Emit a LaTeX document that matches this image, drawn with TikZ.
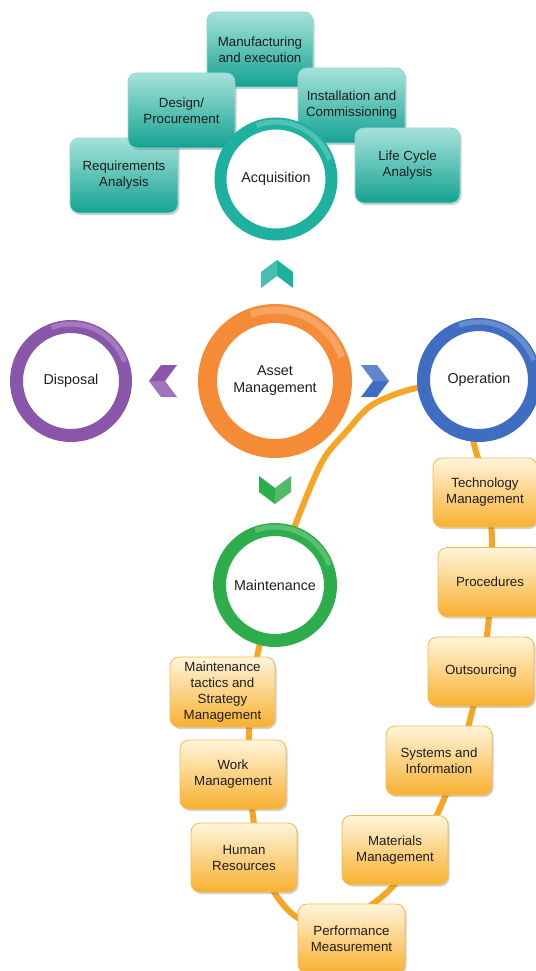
\documentclass[tikz,border=0pt]{standalone}
\usepackage{fontspec}
\setmainfont{Liberation Sans}
\usetikzlibrary{shadows}

\definecolor{txt}{HTML}{1E1E1E}
\definecolor{tealring}{HTML}{1FB19F}
\definecolor{tealtop}{HTML}{A6E2DA}
\definecolor{tealbot}{HTML}{14A292}
\definecolor{tealedge}{HTML}{8FD8CE}
\definecolor{orangering}{HTML}{F58B36}
\definecolor{purplering}{HTML}{8A56AA}
\definecolor{bluering}{HTML}{3E6DC2}
\definecolor{greenring}{HTML}{2DAD4B}
\definecolor{looporange}{HTML}{F6A625}
\definecolor{ambertop}{HTML}{FFF5DC}
\definecolor{amberbot}{HTML}{F8B02F}
\definecolor{amberedge}{HTML}{F5BA4E}

\begin{document}
\begin{tikzpicture}[x=1pt,y=1pt,
  ring/.style={circle, inner sep=0pt, fill=white, text=txt, align=center,
    font=\fontsize{14.3}{17}\selectfont},
  gloss/.style={white, opacity=0.22, line width=5pt},
  boxbase/.style={rounded corners=9pt, text=txt, align=center, inner sep=2pt,
    font=\fontsize{13.3}{16}\selectfont, line width=0.8pt,
    drop shadow={shadow xshift=1.5pt, shadow yshift=-2pt, opacity=0.3, fill=black!60}},
  tealbox/.style={boxbase, minimum width=106pt, minimum height=75pt,
    top color=tealtop, bottom color=tealbot, draw=tealedge},
  amberbox/.style={boxbase, minimum width=106pt, minimum height=69pt,
    top color=ambertop, bottom color=amberbot, draw=amberedge},
  chev/.pic={\fill[pic actions] (14,0) -- (2,16) -- (-14,16) -- (-2,0)
    -- (-14,-16) -- (2,-16) -- cycle;
    \fill[white, opacity=0.18] (14,0) -- (2,16) -- (-14,16) -- (-2,0) -- cycle;}
]
\useasboundingbox (0,0) rectangle (535,-971);

% the orange track linking Operation and Maintenance through the activity boxes
\draw[looporange, line width=6pt, line cap=round]
  plot[smooth, tension=0.55] coordinates {
  (470,-425) (475,-448) (483,-475) (489,-505) (492,-540) (491,-580)
  (488,-627) (481,-670) (471,-716) (457,-765) (441,-806) (420,-848)
  (395,-884) (370,-906) (335,-928) (298,-918) (274,-892) (259,-855)
  (253,-816) (249,-774) (249,-733) (252,-692) (258,-652) (268,-615)
  (282,-565) (296,-523) (322,-462) (346,-432) (372,-405) (412,-389)
  (445,-386)};

% acquisition stages
\node[tealbox] (manu) at (260,-49.5) {Manufacturing\\and execution};
\node[tealbox, minimum width=108pt] (req) at (124,-175.5) {Requirements\\Analysis};
\node[tealbox, minimum width=107pt] (design) at (181.5,-110.5) {Design/\\Procurement};
\node[tealbox, minimum width=107pt] (inst) at (351.5,-105.5) {Installation and\\Commissioning};
\node[tealbox, minimum width=105pt] (lca) at (407.5,-165.5) {Life Cycle\\Analysis};

% life-cycle circles
\node[ring, draw=tealring, line width=12pt, minimum size=111pt] (acq) at (276,-179) {Acquisition};
\draw[gloss] (acq.center) ++(20:57) arc[start angle=20, end angle=110, radius=57];

\node[ring, draw=orangering, line width=19pt, minimum size=135pt] (am) at (275,-381) {Asset\\Management};
\draw[gloss, line width=7pt] (am.center) ++(20:71) arc[start angle=20, end angle=110, radius=71];

\node[ring, draw=purplering, line width=13pt, minimum size=109pt] (disp) at (71,-381) {Disposal};
\draw[gloss] (disp.center) ++(20:57) arc[start angle=20, end angle=110, radius=57];

\node[ring, draw=bluering, line width=13pt, minimum size=111pt] (op) at (479,-380) {Operation};
\draw[gloss] (op.center) ++(20:58) arc[start angle=20, end angle=110, radius=58];

\node[ring, draw=greenring, line width=13pt, minimum size=111pt] (maint) at (275,-585) {Maintenance};
\draw[gloss] (maint.center) ++(20:58) arc[start angle=20, end angle=110, radius=58];

% direction chevrons around the centre
\pic[fill=tealring, rotate=90] (up) at (277,-274) {chev};
\pic[fill=purplering, rotate=180] (left) at (163,-381) {chev};
\pic[fill=bluering] (right) at (375,-381) {chev};
\pic[fill=greenring, rotate=270] (down) at (275,-490) {chev};

% operation activities
\node[amberbox, minimum width=104pt] (tech) at (485,-492.5) {Technology\\Management};
\node[amberbox, minimum width=104pt] (proc) at (490,-582) {Procedures};
\node[amberbox] (outs) at (481,-671.5) {Outsourcing};
\node[amberbox] (sys) at (439,-760.5) {Systems and\\Information};
\node[amberbox] (mat) at (395,-850) {Materials\\Management};
\node[amberbox, minimum width=107pt] (perf) at (351.5,-938.5) {Performance\\Measurement};

% maintenance activities
\node[amberbox, minimum width=105pt, minimum height=70pt] (tact) at (222.5,-692)
  {Maintenance\\tactics and\\Strategy\\Management};
\node[amberbox] (work) at (233,-774.5) {Work\\Management};
\node[amberbox] (hr) at (244,-857.5) {Human\\Resources};
\end{tikzpicture}
\end{document}
